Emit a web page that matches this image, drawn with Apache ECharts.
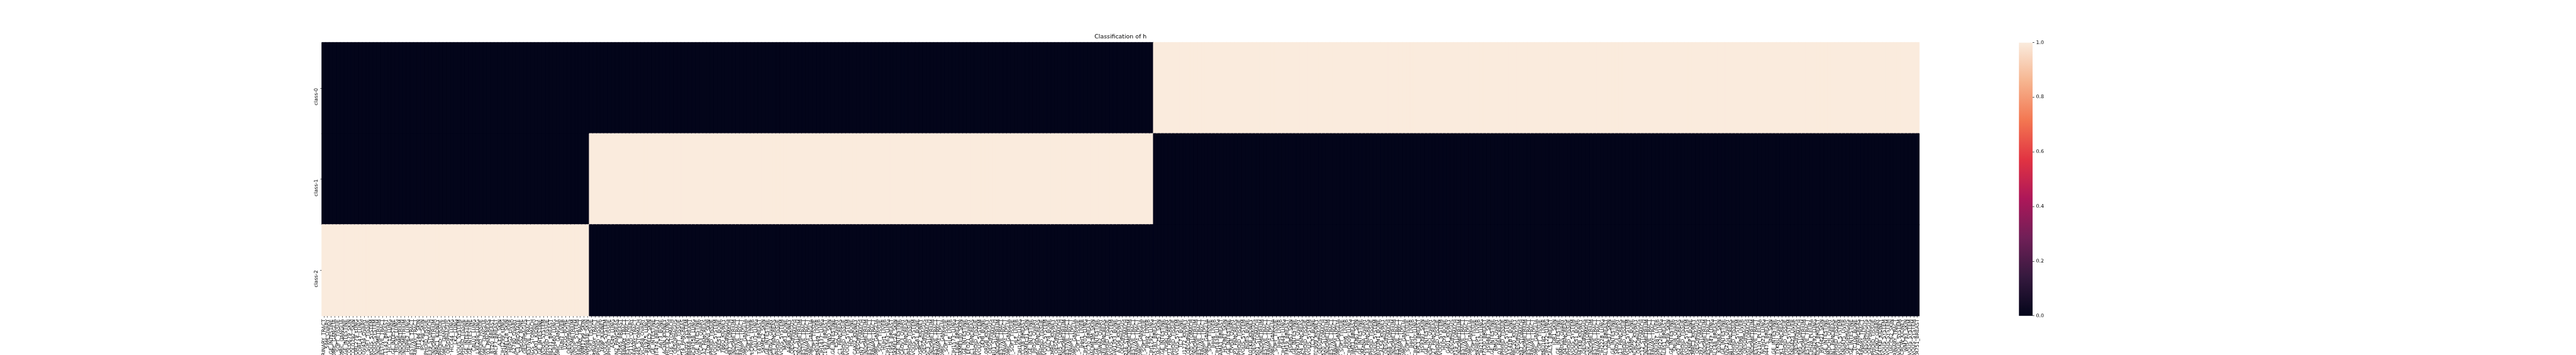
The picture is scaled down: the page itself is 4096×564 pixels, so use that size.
<!DOCTYPE html>
<html><head><meta charset="utf-8">
<script src="https://cdn.jsdelivr.net/npm/echarts@6/dist/echarts.min.js"></script>
<style>html,body{margin:0;padding:0;background:#fff}#c{width:4096px;height:564px}</style>
</head><body><div id="c"></div>
<script>
const chartTitle = 'Classification of h';
const classNames = ['class-0', 'class-1', 'class-2'];
const samples = [
'SW780_URINARY_TRACT','59M_OVARY','LS180_LARGE_INTESTINE','SKNAS_AUTONOMIC_GANGLIA','A204_SOFT_TISSUE','KELLY_AUTONOMIC_GANGLIA','HT29_LARGE_INTESTINE','COLO679_SKIN','COLO792_SKIN','CORL279_LUNG',
'CORL47_LUNG','COV434_OVARY','RD_SOFT_TISSUE','U87MG_CENTRAL_NERVOUS_SYSTEM','SF295_CENTRAL_NERVOUS_SYSTEM','AN3CA_ENDOMETRIUM','FADU_UPPER_AERODIGESTIVE_TRACT','HCC1143_BREAST','HCC15_LUNG','SW620_LARGE_INTESTINE',
'HCC95_LUNG','HEC1B_ENDOMETRIUM','ISHIKAWAHERAKLIO02ER_ENDOMETRIUM','HOP62_LUNG','DETROIT562_UPPER_AERODIGESTIVE_TRACT','T24_URINARY_TRACT','HT144_SKIN','IPC298_SKIN','KARPAS299_HAEMATOPOIETIC_AND_LYMPHOID_TISSUE','KE39_STOMACH',
'MFE296_ENDOMETRIUM','KMRC1_KIDNEY','MOLM13_HAEMATOPOIETIC_AND_LYMPHOID_TISSUE','CHP212_AUTONOMIC_GANGLIA','KYSE30_OESOPHAGUS','HCC44_LUNG','LK2_LUNG','DAOY_CENTRAL_NERVOUS_SYSTEM','SUDHL4_HAEMATOPOIETIC_AND_LYMPHOID_TISSUE','HCT116_LARGE_INTESTINE',
'SNU61_LARGE_INTESTINE','CALU1_LUNG','LXF289_LUNG','U937_HAEMATOPOIETIC_AND_LYMPHOID_TISSUE','SKNFI_AUTONOMIC_GANGLIA','PANC0203_PANCREAS','BT20_BREAST','MCF7_BREAST','A375_SKIN','NCIH1299_LUNG',
'SKMEL28_SKIN','HEPG2_LIVER','A2780_OVARY','PC3_PROSTATE','SAOS2_BONE','KYSE70_OESOPHAGUS','HSC3_UPPER_AERODIGESTIVE_TRACT','AGS_STOMACH','CAKI1_KIDNEY','RKO_LARGE_INTESTINE',
'T98G_CENTRAL_NERVOUS_SYSTEM','K562_HAEMATOPOIETIC_AND_LYMPHOID_TISSUE','MDAMB231_BREAST','NCIH460_LUNG','SKNSH_AUTONOMIC_GANGLIA','HUH7_LIVER','U2OS_BONE','OE33_OESOPHAGUS','HEC1A_ENDOMETRIUM','SF268_CENTRAL_NERVOUS_SYSTEM',
'RT4_URINARY_TRACT','WM1799_SKIN','WM983B_SKIN','HT1080_SOFT_TISSUE','5637_URINARY_TRACT','JURKAT_HAEMATOPOIETIC_AND_LYMPHOID_TISSUE','769P_KIDNEY','SNB75_CENTRAL_NERVOUS_SYSTEM','HL60_HAEMATOPOIETIC_AND_LYMPHOID_TISSUE','A549_LUNG',
'CAPAN2_PANCREAS','AU565_BREAST','UMUC3_URINARY_TRACT','SCC25_UPPER_AERODIGESTIVE_TRACT','TOV112D_OVARY','J82_URINARY_TRACT','MKN45_STOMACH','OVCAR8_OVARY','NCIH1975_LUNG','SKMEL5_SKIN',
'DLD1_LARGE_INTESTINE','BT474_BREAST','A673_BONE','ACHN_KIDNEY','HCC827_LUNG','SNU16_STOMACH','KYSE150_OESOPHAGUS','RH30_SOFT_TISSUE','HUPT4_PANCREAS','U251MG_CENTRAL_NERVOUS_SYSTEM',
'MDAMB468_BREAST','NCIH358_LUNG','SW480_LARGE_INTESTINE','OVCAR3_OVARY','MIAPACA2_PANCREAS','LOXIMVI_SKIN','THP1_HAEMATOPOIETIC_AND_LYMPHOID_TISSUE','A172_CENTRAL_NERVOUS_SYSTEM','SKES1_BONE','786O_KIDNEY',
'TE1_OESOPHAGUS','NCIN87_STOMACH','KLE_ENDOMETRIUM','CAL27_UPPER_AERODIGESTIVE_TRACT','HT1376_URINARY_TRACT','IMR32_AUTONOMIC_GANGLIA','G402_SOFT_TISSUE','PLCPRF5_LIVER','CALU3_LUNG','T47D_BREAST',
'SKMEL2_SKIN','LOVO_LARGE_INTESTINE','IGROV1_OVARY','BXPC3_PANCREAS','MV411_HAEMATOPOIETIC_AND_LYMPHOID_TISSUE','SNB19_CENTRAL_NERVOUS_SYSTEM','MG63_BONE','A498_KIDNEY','TE8_OESOPHAGUS','HGC27_STOMACH',
'RL952_ENDOMETRIUM','SCC9_UPPER_AERODIGESTIVE_TRACT','TCCSUP_URINARY_TRACT','SKNBE2_AUTONOMIC_GANGLIA','RH41_SOFT_TISSUE','SNU449_LIVER','NCIH1437_LUNG','HCC1937_BREAST','MEWO_SKIN','COLO205_LARGE_INTESTINE',
'ES2_OVARY','PANC1_PANCREAS','KASUMI1_HAEMATOPOIETIC_AND_LYMPHOID_TISSUE','DBTRG05MG_CENTRAL_NERVOUS_SYSTEM','HOS_BONE','CAKI2_KIDNEY','TE11_OESOPHAGUS','MKN7_STOMACH','HEC108_ENDOMETRIUM','HSC2_UPPER_AERODIGESTIVE_TRACT',
'SCABER_URINARY_TRACT','SHSY5Y_AUTONOMIC_GANGLIA','KYM1_SOFT_TISSUE','HUH1_LIVER','NCIH1563_LUNG','HCC1954_BREAST','SKMEL24_SKIN','HCT15_LARGE_INTESTINE','CAOV3_OVARY','ASPC1_PANCREAS',
'NB4_HAEMATOPOIETIC_AND_LYMPHOID_TISSUE','SF126_CENTRAL_NERVOUS_SYSTEM','SJSA1_BONE','OSRC2_KIDNEY','TE10_OESOPHAGUS','NUGC3_STOMACH','JHUEM2_ENDOMETRIUM','BICR6_UPPER_AERODIGESTIVE_TRACT','BFTC905_URINARY_TRACT','NB69_AUTONOMIC_GANGLIA',
'SW982_SOFT_TISSUE','HLE_LIVER','NCIH1573_LUNG','HCC1806_BREAST','SKMEL30_SKIN','CACO2_LARGE_INTESTINE','EFO21_OVARY','CFPAC1_PANCREAS','OCIAML2_HAEMATOPOIETIC_AND_LYMPHOID_TISSUE','H4_CENTRAL_NERVOUS_SYSTEM',
'143B_BONE','RCC10RGB_KIDNEY','TE14_OESOPHAGUS','SNU1_STOMACH','JHUEM7_ENDOMETRIUM','BICR16_UPPER_AERODIGESTIVE_TRACT','647V_URINARY_TRACT','CHP126_AUTONOMIC_GANGLIA','RKN_SOFT_TISSUE','HLF_LIVER',
'NCIH1650_LUNG','HCC38_BREAST','SKMEL31_SKIN','SW837_LARGE_INTESTINE','JHOS2_OVARY','HPAC_PANCREAS','KG1_HAEMATOPOIETIC_AND_LYMPHOID_TISSUE','KNS42_CENTRAL_NERVOUS_SYSTEM','CAL78_BONE','KMRC2_KIDNEY',
'TE15_OESOPHAGUS','SNU5_STOMACH','MFE280_ENDOMETRIUM','PECAPJ15_UPPER_AERODIGESTIVE_TRACT','639V_URINARY_TRACT','SKNDZ_AUTONOMIC_GANGLIA','S117_SOFT_TISSUE','JHH1_LIVER','NCIH1703_LUNG','HCC70_BREAST',
'MALME3M_SKIN','SW403_LARGE_INTESTINE','OAW42_OVARY','HPAFII_PANCREAS','SUDHL6_HAEMATOPOIETIC_AND_LYMPHOID_TISSUE','KNS60_CENTRAL_NERVOUS_SYSTEM','SW1353_BONE','A704_KIDNEY','TE4_OESOPHAGUS','SNU216_STOMACH',
'HEC151_ENDOMETRIUM','SCC4_UPPER_AERODIGESTIVE_TRACT','CAL29_URINARY_TRACT','KPNYN_AUTONOMIC_GANGLIA','VAESBJ_SOFT_TISSUE','JHH2_LIVER','NCIH1792_LUNG','HS578T_BREAST','UACC257_SKIN','T84_LARGE_INTESTINE',
'OV90_OVARY','HUPT3_PANCREAS','RAJI_HAEMATOPOIETIC_AND_LYMPHOID_TISSUE','KNS81_CENTRAL_NERVOUS_SYSTEM','TC71_BONE','SNU1272_KIDNEY','TE5_OESOPHAGUS','SNU520_STOMACH','HEC251_ENDOMETRIUM','SCC15_UPPER_AERODIGESTIVE_TRACT',
'HT1197_URINARY_TRACT','MHHNB11_AUTONOMIC_GANGLIA','TE441T_SOFT_TISSUE','JHH4_LIVER','NCIH1838_LUNG','CAMA1_BREAST','HS294T_SKIN','LS1034_LARGE_INTESTINE','OVISE_OVARY','KP3_PANCREAS',
'DAUDI_HAEMATOPOIETIC_AND_LYMPHOID_TISSUE','KS1_CENTRAL_NERVOUS_SYSTEM','RDES_BONE','TUHR10TKB_KIDNEY','TE6_OESOPHAGUS','SNU601_STOMACH','HEC265_ENDOMETRIUM','YD10B_UPPER_AERODIGESTIVE_TRACT','JMSU1_URINARY_TRACT','SIMA_AUTONOMIC_GANGLIA',
'TE617T_SOFT_TISSUE','JHH5_LIVER','NCIH1944_LUNG','EFM19_BREAST','HS695T_SKIN','LS411N_LARGE_INTESTINE','OVKATE_OVARY','KP4_PANCREAS','NAMALWA_HAEMATOPOIETIC_AND_LYMPHOID_TISSUE','LN235_CENTRAL_NERVOUS_SYSTEM',
'TC32_BONE','BFTC909_KIDNEY','TE9_OESOPHAGUS','SNU620_STOMACH','HEC50B_ENDOMETRIUM','YD15_UPPER_AERODIGESTIVE_TRACT','KMBC2_URINARY_TRACT','NH6_AUTONOMIC_GANGLIA','HS729_SOFT_TISSUE','JHH6_LIVER',
'NCIH2009_LUNG','JIMT1_BREAST','HS936T_SKIN','LS513_LARGE_INTESTINE','OVMANA_OVARY','L33_PANCREAS','KMS11_HAEMATOPOIETIC_AND_LYMPHOID_TISSUE','M059K_CENTRAL_NERVOUS_SYSTEM','HUO3N1_BONE','CAL54_KIDNEY',
'KYSE140_OESOPHAGUS','SNU668_STOMACH','HEC59_ENDOMETRIUM','YD38_UPPER_AERODIGESTIVE_TRACT','RT112_URINARY_TRACT','BE2C_AUTONOMIC_GANGLIA','SJRH30_SOFT_TISSUE','JHH7_LIVER','NCIH2030_LUNG','KPL1_BREAST',
'HS939T_SKIN','NCIH508_LARGE_INTESTINE','OVSAHO_OVARY','PANC0327_PANCREAS','RPMI8226_HAEMATOPOIETIC_AND_LYMPHOID_TISSUE','SNU1105_CENTRAL_NERVOUS_SYSTEM','HUO9_BONE','G401_KIDNEY','KYSE180_OESOPHAGUS','SNU719_STOMACH',
'HEC6_ENDOMETRIUM','YD8_UPPER_AERODIGESTIVE_TRACT','UMUC1_URINARY_TRACT','NB1_AUTONOMIC_GANGLIA','RH18_SOFT_TISSUE','SKHEP1_LIVER','NCIH2110_LUNG','ZR7530_BREAST','HS944T_SKIN','NCIH716_LARGE_INTESTINE',
'RMGI_OVARY','PANC0403_PANCREAS','U266B1_HAEMATOPOIETIC_AND_LYMPHOID_TISSUE','SNU489_CENTRAL_NERVOUS_SYSTEM','G292CLONEA141B1_BONE','KMRC20_KIDNEY','KYSE270_OESOPHAGUS','2313287_STOMACH','JHUEM1_ENDOMETRIUM','SNU1041_UPPER_AERODIGESTIVE_TRACT',
'VMCUB1_URINARY_TRACT','KPNSI9S_AUTONOMIC_GANGLIA','SW872_SOFT_TISSUE','SNU182_LIVER','NCIH2122_LUNG','CAL51_BREAST','IGR1_SKIN','RCM1_LARGE_INTESTINE','RMUGS_OVARY','PANC0504_PANCREAS',
'MOLT4_HAEMATOPOIETIC_AND_LYMPHOID_TISSUE','SNU626_CENTRAL_NERVOUS_SYSTEM','CADOES1_BONE','TUHR4TKB_KIDNEY','KYSE510_OESOPHAGUS','ECC10_STOMACH','JHUEM3_ENDOMETRIUM','SNU1066_UPPER_AERODIGESTIVE_TRACT','BC3C_URINARY_TRACT','NCIH2228_LUNG',
'CAL120_BREAST','IGR37_SKIN','SNUC1_LARGE_INTESTINE','SKOV3_OVARY','PANC0813_PANCREAS','CCRFCEM_HAEMATOPOIETIC_AND_LYMPHOID_TISSUE','U118MG_CENTRAL_NERVOUS_SYSTEM','SKNMC_BONE','VMRCRCZ_KIDNEY','KYSE520_OESOPHAGUS',
'ECC12_STOMACH','SNGM_ENDOMETRIUM','SNU1076_UPPER_AERODIGESTIVE_TRACT','HS172T_URINARY_TRACT','SNU387_LIVER','NCIH226_LUNG','CAL851_BREAST','IGR39_SKIN','SNUC2A_LARGE_INTESTINE','SNU8_OVARY',
'PATU8902_PANCREAS','JEKO1_HAEMATOPOIETIC_AND_LYMPHOID_TISSUE','YKG1_CENTRAL_NERVOUS_SYSTEM','SKNEP1_BONE','KMRC3_KIDNEY','OE19_OESOPHAGUS','FU97_STOMACH','SNU1077_ENDOMETRIUM','SNU899_UPPER_AERODIGESTIVE_TRACT','NCIH2347_LUNG',
'CAL148_BREAST','K029AX_SKIN','SW1116_LARGE_INTESTINE','TOV21G_OVARY','PATU8988T_PANCREAS','MINO_HAEMATOPOIETIC_AND_LYMPHOID_TISSUE','8MGBA_CENTRAL_NERVOUS_SYSTEM','SNU398_LIVER','OE21_OESOPHAGUS','GSU_STOMACH',
'EFE184_ENDOMETRIUM','BHY_UPPER_AERODIGESTIVE_TRACT','MSTO211H_PLEURA','NCIH23_LUNG','DU4475_BREAST','SH4_SKIN','SW1417_LARGE_INTESTINE','TYKNU_OVARY','PK1_PANCREAS','REC1_HAEMATOPOIETIC_AND_LYMPHOID_TISSUE',
'42MGBA_CENTRAL_NERVOUS_SYSTEM','SNU423_LIVER','COLO680N_OESOPHAGUS','IM95_STOMACH','ESS1_ENDOMETRIUM','BICR22_UPPER_AERODIGESTIVE_TRACT','NCIH28_PLEURA','NCIH292_LUNG','HDQP1_BREAST','RVH421_SKIN',
'SW948_LARGE_INTESTINE','KURAMOCHI_OVARY','PSN1_PANCREAS','OCILY3_HAEMATOPOIETIC_AND_LYMPHOID_TISSUE','CCFSTTG1_CENTRAL_NERVOUS_SYSTEM','SNU475_LIVER','ECGI10_OESOPHAGUS','SW48_LARGE_INTESTINE','TC106_BONE','KP2_PANCREAS',
'SW1710_URINARY_TRACT','KYSE410_OESOPHAGUS','KYSE450_OESOPHAGUS','OCIAML3_HAEMATOPOIETIC_AND_LYMPHOID_TISSUE','OVTOKO_OVARY','TUHR14TKB_KIDNEY','SF539_CENTRAL_NERVOUS_SYSTEM','GB1_CENTRAL_NERVOUS_SYSTEM','UACC62_SKIN','KU1919_URINARY_TRACT',
'SNU201_CENTRAL_NERVOUS_SYSTEM','VMRCRCW_KIDNEY','WM793_SKIN','LN18_CENTRAL_NERVOUS_SYSTEM','LN229_CENTRAL_NERVOUS_SYSTEM','ZR751_BREAST'
];
// predicted class index for each sample (0 = class-0, 1 = class-1, 2 = class-2)
const predictedClass = [
2,2,2,2,2,2,2,2,2,2,
2,2,2,2,2,2,2,2,2,2,
2,2,2,2,2,2,2,2,2,2,
2,2,2,2,2,2,2,2,2,2,
2,2,2,2,2,2,2,2,2,2,
2,2,2,2,2,2,2,2,2,2,
2,2,2,2,2,2,2,2,2,2,
2,2,2,1,1,1,1,1,1,1,
1,1,1,1,1,1,1,1,1,1,
1,1,1,1,1,1,1,1,1,1,
1,1,1,1,1,1,1,1,1,1,
1,1,1,1,1,1,1,1,1,1,
1,1,1,1,1,1,1,1,1,1,
1,1,1,1,1,1,1,1,1,1,
1,1,1,1,1,1,1,1,1,1,
1,1,1,1,1,1,1,1,1,1,
1,1,1,1,1,1,1,1,1,1,
1,1,1,1,1,1,1,1,1,1,
1,1,1,1,1,1,1,1,1,1,
1,1,1,1,1,1,1,1,1,1,
1,1,1,1,1,1,1,1,1,1,
1,1,1,1,1,1,1,1,1,1,
1,1,1,1,1,1,1,0,0,0,
0,0,0,0,0,0,0,0,0,0,
0,0,0,0,0,0,0,0,0,0,
0,0,0,0,0,0,0,0,0,0,
0,0,0,0,0,0,0,0,0,0,
0,0,0,0,0,0,0,0,0,0,
0,0,0,0,0,0,0,0,0,0,
0,0,0,0,0,0,0,0,0,0,
0,0,0,0,0,0,0,0,0,0,
0,0,0,0,0,0,0,0,0,0,
0,0,0,0,0,0,0,0,0,0,
0,0,0,0,0,0,0,0,0,0,
0,0,0,0,0,0,0,0,0,0,
0,0,0,0,0,0,0,0,0,0,
0,0,0,0,0,0,0,0,0,0,
0,0,0,0,0,0,0,0,0,0,
0,0,0,0,0,0,0,0,0,0,
0,0,0,0,0,0,0,0,0,0,
0,0,0,0,0,0,0,0,0,0,
0,0,0,0,0,0,0,0,0,0,
0,0,0,0,0,0,0,0,0,0,
0,0,0,0,0,0
];
const colorbarTicks = [0.0, 0.2, 0.4, 0.6, 0.8, 1.0];
const rocketColors = ['#03051a','#35193e','#701f57','#ad1759','#e13342','#f37651','#f6b48f','#faebdd'];

// ---- layout (reference px * scale) ----
const S = 4096 / 7266;
const FONT = 'DejaVu Sans';
const fs = 13.89 * S;
const tickLen = 4.86 * S;
const gridMain = { left: 908.25 * S, top: 120 * S, width: 4504.9 * S, height: 770 * S };
const gridCb = { left: 5694.7 * S, top: 120 * S, width: 38.5 * S, height: 770 * S };

const lowColor = rocketColors[0], highColor = rocketColors[rocketColors.length - 1];
const heatData = [];
predictedClass.forEach((c, i) => {
  classNames.forEach((_, r) => {
    const v = c === r ? 1 : 0;
    heatData.push({ value: [i, r, v], itemStyle: { borderColor: v ? highColor : lowColor, borderWidth: 1 } });
  });
});

const stops = rocketColors.map((col, i) => ({ offset: 1 - i / (rocketColors.length - 1), color: col })).reverse();

const chart = echarts.init(document.getElementById('c'), null, { renderer: 'canvas' });
chart.setOption({
  animation: false,
  backgroundColor: '#ffffff',
  title: {
    text: chartTitle, left: (908.25 + 4504.9 / 2) * S, top: 54.5, padding: 0,
    textAlign: 'center',
    textStyle: { fontFamily: FONT, fontSize: 16.67 * S, fontWeight: 'normal', color: '#000' }
  },
  grid: [
    Object.assign({ containLabel: false, outerBoundsMode: 'none' }, gridMain),
    Object.assign({ containLabel: false, outerBoundsMode: 'none' }, gridCb)
  ],
  xAxis: [
    {
      type: 'category', gridIndex: 0, data: samples, boundaryGap: true,
      axisLine: { show: false },
      axisTick: { show: true, alignWithLabel: true, interval: 0, length: tickLen, lineStyle: { color: '#000', width: 0.7 } },
      axisLabel: { interval: 0, rotate: 90, margin: 2 * tickLen, fontFamily: FONT, fontSize: fs, color: '#000', hideOverlap: false },
      splitLine: { show: false }
    },
    {
      type: 'category', gridIndex: 1, data: [''], boundaryGap: true,
      axisLine: { show: false }, axisTick: { show: false }, axisLabel: { show: false }, splitLine: { show: false }
    }
  ],
  yAxis: [
    {
      type: 'category', gridIndex: 0, data: classNames, inverse: true, boundaryGap: true,
      axisLine: { show: false },
      axisTick: { show: true, alignWithLabel: true, length: tickLen, lineStyle: { color: '#000', width: 0.7 } },
      axisLabel: { interval: 0, rotate: 90, align: 'right', verticalAlign: 'bottom', margin: 2 * tickLen,
        fontFamily: FONT, fontSize: fs, color: '#000' },
      splitLine: { show: false }
    },
    {
      type: 'value', gridIndex: 1, position: 'right', min: 0, max: 1, interval: 0.2,
      axisLine: { show: false },
      axisTick: { show: true, length: tickLen, lineStyle: { color: '#000', width: 0.7 } },
      axisLabel: { margin: 2 * tickLen, fontFamily: FONT, fontSize: fs, color: '#000',
        formatter: v => colorbarTicks.find(t => Math.abs(t - v) < 1e-9).toFixed(1) },
      splitLine: { show: false }
    }
  ],
  visualMap: {
    type: 'continuous', show: false, min: 0, max: 1, seriesIndex: 0,
    inRange: { color: rocketColors }
  },
  series: [
    {
      type: 'heatmap', xAxisIndex: 0, yAxisIndex: 0, data: heatData,
      progressive: 0, emphasis: { disabled: true }
    },
    {
      type: 'bar', xAxisIndex: 1, yAxisIndex: 1, data: [1], barWidth: '100%',
      itemStyle: { color: new echarts.graphic.LinearGradient(0, 0, 0, 1, stops) },
      emphasis: { disabled: true }
    }
  ]
});
</script>
</body></html>
